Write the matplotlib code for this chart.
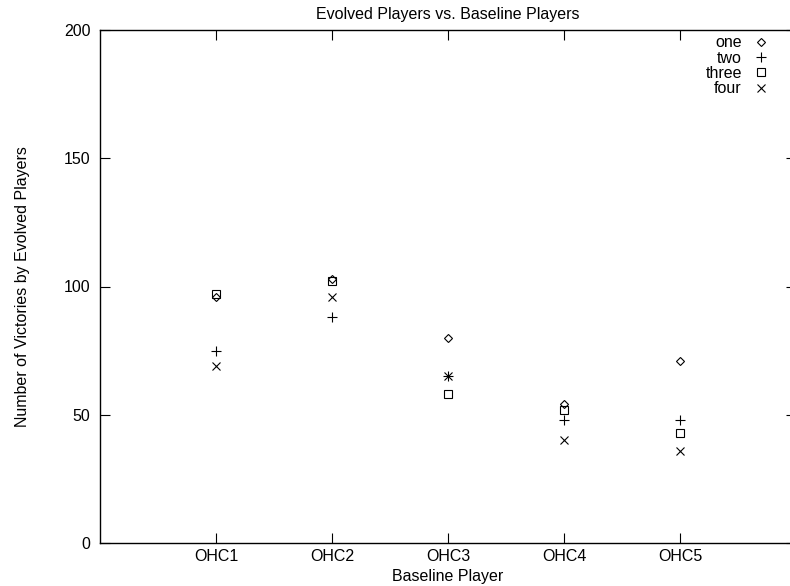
import numpy as np
from matplotlib import pyplot as plt

plt.rcParams['font.family'] = ['Liberation Sans', 'DejaVu Sans']

players = ["OHC1", "OHC2", "OHC3", "OHC4", "OHC5"]
one   = [96, 103, 80, 54, 71]
two   = [75, 88, 65, 48, 48]
three = [97, 102, 58, 52, 43]
four  = [69, 96, 65, 40, 36]

series = [("one", one, "D", 4.5), ("two", two, "+", 7),
          ("three", three, "s", 6), ("four", four, "x", 6)]

fs = 11.5
fig = plt.figure(figsize=(7.9, 5.86), dpi=100)
ax = fig.add_axes([100/790, 43/586, 696/790, 513/586])

xpos = np.arange(1, len(players) + 1)
for name, vals, mk, ms in series:
    ax.plot(xpos, vals, linestyle="none", marker=mk, markersize=ms,
            markerfacecolor="none", markeredgecolor="black",
            markeredgewidth=0.8, label=name)

ax.set_xlim(0, 6)
ax.set_ylim(0, 200)
ax.set_xticks(xpos)
ax.set_xticklabels(players)
ax.set_yticks([0, 50, 100, 150, 200])
ax.tick_params(direction="in", length=7, width=0.8, labelsize=fs,
               right=True, top=True)
ax.tick_params(axis="x", pad=4)
ax.tick_params(axis="y", pad=7)
for s in ax.spines.values():
    s.set_linewidth(1.0)

ax.set_xlabel("Baseline Player", fontsize=fs, labelpad=4)
ax.set_ylabel("Number of Victories by Evolved Players", fontsize=fs, labelpad=24)
ax.set_title("Evolved Players vs. Baseline Players", fontsize=fs, pad=8)

ax.legend(loc="upper right", bbox_to_anchor=(777/790, 1 - 29/586),
          bbox_transform=fig.transFigure, frameon=False, markerfirst=False,
          fontsize=fs, handlelength=1.2, handletextpad=0.6,
          labelspacing=0.02, borderaxespad=0)

fig.savefig("out.png", dpi=100)
